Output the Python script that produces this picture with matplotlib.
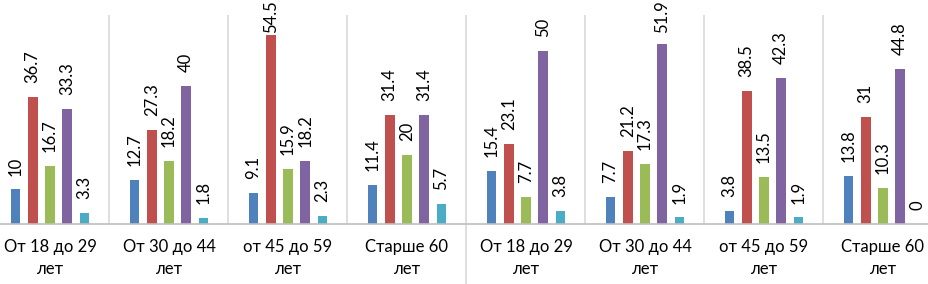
import matplotlib.pyplot as plt
import numpy as np

plt.rcParams['font.family'] = ['Lato', 'DejaVu Sans']

categories = ['От 18 до 29\nлет', 'От 30 до 44\nлет', 'от 45 до 59\nлет', 'Старше 60\nлет',
              'От 18 до 29\nлет', 'От 30 до 44\nлет', 'от 45 до 59\nлет', 'Старше 60\nлет']
s1 = [10, 12.7, 9.1, 11.4, 15.4, 7.7, 3.8, 13.8]
s2 = [36.7, 27.3, 54.5, 31.4, 23.1, 21.2, 38.5, 31]
s3 = [16.7, 18.2, 15.9, 20, 7.7, 17.3, 13.5, 10.3]
s4 = [33.3, 40, 18.2, 31.4, 50, 51.9, 42.3, 44.8]
s5 = [3.3, 1.8, 2.3, 5.7, 3.8, 1.9, 1.9, 0]
series = [s1, s2, s3, s4, s5]
colors = ['#4F81BD', '#C0504D', '#9BBB59', '#8064A2', '#4BACC6']

W, H = 929, 284
fig = plt.figure(figsize=(W / 100, H / 100), dpi=100)
# plot area is cropped on both sides in the source image
left, right, top, bottom = -9.5, 942.5, 15, 224
ax = fig.add_axes([left / W, 1 - bottom / H, (right - left) / W, (bottom - top) / H])

ax.set_xlim(-0.5, len(categories) - 0.5)
ax.set_ylim(0, 60.4)

x = np.arange(len(categories))
step = 0.145
width = 0.08
labels = []
for i, (vals, c) in enumerate(zip(series, colors)):
    xs = x + (i - 2) * step
    ax.bar(xs, vals, width=width, color=c, zorder=2)
    for xi, v in zip(xs, vals):
        t = ax.annotate(f'{v:g}', (xi, v), xytext=(0, 10), textcoords='offset points',
                        rotation=90, ha='center', va='bottom', fontsize=12,
                        color='#000000', annotation_clip=False)
        labels.append(t)

for b in np.arange(0.5, len(categories) - 0.5):
    ax.axvline(b, color='#D9D9D9', lw=1.2, zorder=1)
ax.axhline(0, color='#BFBFBF', lw=1.2, zorder=3, clip_on=False)

# separator between the two halves reaches into the label area
ax.plot([3.5, 3.5], [0, -1], transform=ax.get_xaxis_transform(), color='#D9D9D9',
        lw=1.2, clip_on=False)

ax.set_xticks(x)
ax.set_xticklabels(categories, fontsize=12, linespacing=1.45)
ax.tick_params(axis='x', length=0, pad=11)
ax.set_yticks([])
for s in ax.spines.values():
    s.set_visible(False)

# keep data labels inside the picture, as the spreadsheet does
fig.canvas.draw()
r = fig.canvas.get_renderer()
for t in labels:
    bb = t.get_window_extent(r)
    over = bb.y1 - H
    if over > 0:
        ox, oy = t.xyann
        t.xyann = (ox, oy - over * 72 / fig.dpi)

plt.savefig('out.png', dpi=100)
